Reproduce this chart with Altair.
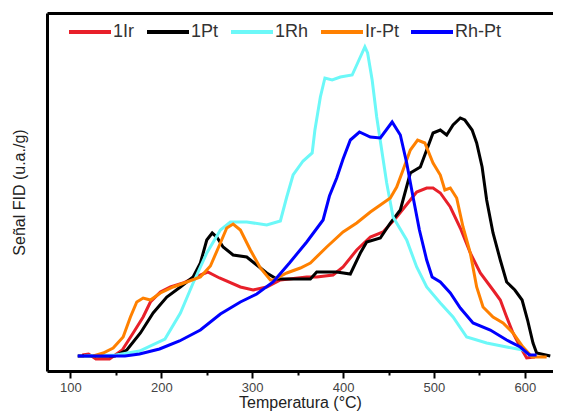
import altair as alt
import pandas as pd

series_names = ["1Ir", "1Pt", "1Rh", "Ir-Pt", "Rh-Pt"]
series_colors = ["#e8202a", "#000000", "#6cf8f8", "#ff8000", "#0000ff"]

ir_T = [113, 120, 128, 143, 157, 169, 180, 188, 199, 210, 224, 235, 251, 264, 287, 301, 316, 331, 360, 371, 389,
        400, 415, 430, 444, 459, 474, 481, 492, 499, 507, 518, 529, 540, 551, 565, 573, 580, 587, 595, 602, 611]
ir_v = [1, 2, -3, -3, 6, 23, 39, 54, 64, 69, 73, 78, 84, 78, 69, 66, 69, 76, 79, 79, 81,
        89, 106, 119, 124, 139, 156, 164, 168, 168, 163, 149, 128, 103, 83, 66, 56, 39, 23, 9, -2, -1]

pt_T = [108, 149, 162, 177, 191, 206, 221, 235, 243, 250, 256, 261, 268, 279, 294, 305, 316, 327, 353, 364, 371,
        393, 408, 419, 426, 441, 452, 463, 474, 485, 492, 499, 507, 514, 521, 529, 534, 542, 547, 553, 558, 565,
        573, 580, 589, 597, 603, 609, 613, 628]
pt_v = [0, 0, 6, 23, 43, 59, 69, 79, 93, 116, 123, 119, 109, 101, 99, 91, 83, 77, 77, 77, 84,
        84, 82, 103, 114, 118, 133, 146, 183, 189, 206, 223, 226, 221, 231, 238, 236, 226, 213, 189, 156, 123,
        96, 74, 66, 56, 36, 13, 3, 0]

rh_T = [115, 150, 176, 204, 221, 235, 250, 265, 276, 294, 316, 331, 338, 345, 356, 366, 369, 375, 380, 388, 397,
        410, 416, 424, 427, 432, 437, 443, 448, 455, 470, 481, 492, 507, 521, 536, 558, 580, 598, 609]
rh_v = [0, 1, 5, 17, 43, 73, 103, 126, 134, 134, 131, 135, 159, 181, 195, 203, 226, 259, 278, 276, 279,
        281, 293, 309, 303, 276, 239, 203, 173, 139, 116, 89, 69, 53, 39, 19, 13, 9, 6, -1]

irpt_T = [125, 136, 147, 158, 166, 173, 180, 188, 199, 213, 228, 243, 254, 265, 272, 279, 287, 298, 309, 320, 323,
          338, 353, 364, 382, 400, 415, 430, 441, 452, 459, 466, 474, 482, 490, 499, 507, 512, 518, 525, 532,
          540, 547, 554, 565, 576, 587, 598, 608, 624]
irpt_v = [0, 3, 8, 19, 39, 54, 58, 56, 63, 69, 74, 79, 90, 113, 128, 132, 126, 106, 88, 76, 76,
          83, 88, 93, 109, 124, 133, 144, 151, 158, 169, 186, 206, 216, 213, 193, 181, 166, 168, 158, 129,
          103, 69, 49, 39, 33, 23, 9, -1, -1]

rhpt_T = [108, 160, 176, 198, 220, 243, 265, 287, 305, 323, 341, 360, 378, 385, 393, 400, 408, 418, 430, 441,
          454, 463, 470, 477, 484, 492, 498, 507, 518, 529, 543, 562, 580, 595, 605, 613]
rhpt_v = [0, 0, 2, 7, 15, 26, 42, 54, 62, 74, 93, 114, 136, 160, 178, 197, 216, 224, 219, 218,
          234, 221, 193, 159, 126, 96, 79, 74, 63, 48, 33, 26, 16, 9, 1, 1]

x_ticks = [100, 150, 200, 250, 300, 350, 400, 450, 500, 550, 600]

series_T = [ir_T, pt_T, rh_T, irpt_T, rhpt_T]
series_v = [ir_v, pt_v, rh_v, irpt_v, rhpt_v]

rows = []
for i, (name, Ts, vs) in enumerate(zip(series_names, series_T, series_v)):
    for t, v in zip(Ts, vs):
        rows.append({"T": t, "v": v, "s": name, "k": i})
df = pd.DataFrame(rows)

FONT = "Liberation Sans"
x_scale = alt.Scale(domain=[74.2, 631], nice=False, zero=False)
y_scale = alt.Scale(domain=[-15, 343], nice=False, zero=False)
color_scale = alt.Scale(domain=series_names, range=series_colors)

lines = alt.Chart(df).mark_line(strokeWidth=3, clip=True).encode(
    x=alt.X("T:Q", scale=x_scale,
            axis=alt.Axis(values=x_ticks, title="Temperatura (°C)",
                          labelExpr="datum.value % 100 === 0 ? datum.label : ''",
                          tickSize={"condition": {"test": "datum.value % 100 === 0", "value": 7}, "value": 4},
                          labelFlush=False, labelOverlap=False, grid=False,
                          domainColor="black", domainWidth=3, tickColor="black", tickWidth=2,
                          labelFont=FONT, labelFontSize=13, labelColor="#444", labelPadding=3,
                          titleFont=FONT, titleFontSize=16, titleFontWeight="normal", titleColor="#222",
                          titleBaseline="alphabetic", titleY=36)),
    y=alt.Y("v:Q", scale=y_scale,
            axis=alt.Axis(title="Señal FID (u.a./g)", labels=False, ticks=False, grid=False,
                          domainColor="black", domainWidth=3,
                          titleFont=FONT, titleFontSize=16, titleFontWeight="normal", titleColor="#222",
                          titlePadding=20)),
    color=alt.Color("s:N", scale=color_scale, sort=series_names,
                    legend=alt.Legend(title=None, orient="none", legendX=20, legendY=-4,
                                      direction="horizontal", columns=5,
                                      symbolType="stroke", symbolSize=1764, symbolStrokeWidth=4,
                                      labelFont=FONT, labelFontSize=18, labelColor="#333",
                                      labelOffset=0, columnPadding=4, padding=0)),
    detail="k:O",
)

top = alt.Chart(df).mark_line(opacity=0).encode(
    x=alt.X("T:Q", scale=x_scale,
            axis=alt.Axis(orient="top", labels=False, ticks=False, title=None, grid=False,
                          domainColor="black", domainWidth=3)),
    y=alt.value(0),
)

chart = alt.layer(lines, top).resolve_axis(x="independent").properties(
    width=506, height=358,
    padding={"left": 39, "top": 5, "right": 0, "bottom": 40},
    autosize=alt.AutoSizeParams(type="none"),
).configure_view(strokeWidth=0).configure(background="white")

chart.save("out.html", embed_options={"renderer": "svg", "actions": False})
